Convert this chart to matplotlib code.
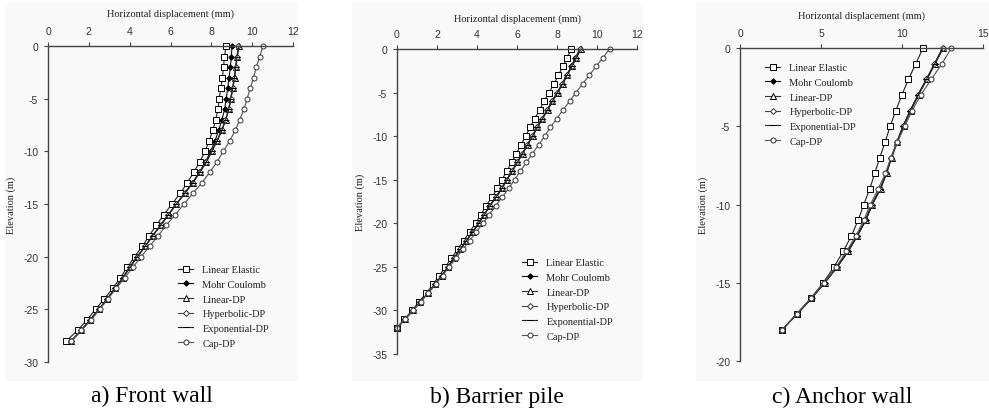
import matplotlib
matplotlib.use("Agg")
import matplotlib.pyplot as plt
from matplotlib.patches import Rectangle

plt.rcParams['axes.unicode_minus'] = False

labels = ["Linear Elastic", "Mohr Coulomb", "Linear-DP", "Hyperbolic-DP", "Exponential-DP", "Cap-DP"]

# ---- a) Front wall ----
depth_a = [0, -1, -2, -3, -4, -5, -6, -7, -8, -9, -10, -11, -12, -13, -14, -15, -16, -17, -18, -19,
           -20, -21, -22, -23, -24, -25, -26, -27, -28]
le_a = [8.73, 8.64, 8.60, 8.54, 8.47, 8.38, 8.33, 8.21, 8.08, 7.89, 7.69, 7.44, 7.13, 6.82, 6.47, 6.07,
        5.68, 5.31, 4.96, 4.62, 4.24, 3.89, 3.54, 3.18, 2.76, 2.33, 1.91, 1.45, 0.90]
mc_a = [9.01, 8.98, 8.93, 8.87, 8.80, 8.73, 8.65, 8.52, 8.36, 8.18, 7.97, 7.71, 7.41, 7.07, 6.69, 6.29,
        5.91, 5.53, 5.14, 4.77, 4.38, 4.02, 3.67, 3.30, 2.91, 2.50, 2.07, 1.63, 1.14]
ldp_a = [9.36, 9.27, 9.21, 9.14, 9.06, 8.96, 8.87, 8.70, 8.52, 8.28, 8.02, 7.76, 7.43, 7.09, 6.69, 6.29,
         5.90, 5.52, 5.13, 4.76, 4.37, 4.01, 3.66, 3.29, 2.90, 2.49, 2.06, 1.62, 1.14]
hdp_a = [9.33, 9.25, 9.19, 9.12, 9.04, 8.94, 8.85, 8.69, 8.51, 8.27, 8.01, 7.75, 7.43, 7.08, 6.69, 6.29,
         5.90, 5.52, 5.13, 4.76, 4.37, 4.01, 3.66, 3.29, 2.90, 2.49, 2.06, 1.62, 1.14]
edp_a = [9.35, 9.26, 9.20, 9.13, 9.05, 8.95, 8.86, 8.70, 8.52, 8.28, 8.02, 7.76, 7.43, 7.09, 6.69, 6.29,
         5.90, 5.52, 5.13, 4.76, 4.37, 4.01, 3.66, 3.29, 2.90, 2.49, 2.06, 1.62, 1.14]
cap_a = [10.53, 10.37, 10.20, 10.07, 9.91, 9.75, 9.60, 9.39, 9.18, 8.90, 8.59, 8.28, 7.92, 7.53, 7.10, 6.66,
         6.24, 5.80, 5.40, 4.98, 4.56, 4.16, 3.76, 3.35, 2.94, 2.53, 2.12, 1.63, 1.14]

# ---- b) Barrier pile ----
depth_b = [0, -1, -2, -3, -4, -5, -6, -7, -8, -9, -10, -11, -12, -13, -14, -15, -16, -17, -18, -19,
           -20, -21, -22, -23, -24, -25, -26, -27, -28, -29, -30, -31, -32]
le_b = [8.72, 8.50, 8.30, 8.07, 7.85, 7.60, 7.35, 7.13, 6.88, 6.65, 6.43, 6.20, 5.97, 5.73, 5.50, 5.25,
        5.02, 4.75, 4.45, 4.20, 3.93, 3.63, 3.33, 3.03, 2.72, 2.42, 2.12, 1.80, 1.47, 1.10, 0.75, 0.37, 0.0]
mc_b = [9.14, 8.92, 8.71, 8.48, 8.25, 8.00, 7.74, 7.50, 7.24, 6.99, 6.76, 6.51, 6.26, 6.00, 5.75, 5.48,
        5.23, 4.94, 4.62, 4.36, 4.08, 3.77, 3.46, 3.16, 2.84, 2.54, 2.23, 1.90, 1.55, 1.17, 0.80, 0.40, 0.0]
ldp_b = [9.20, 8.97, 8.75, 8.52, 8.29, 8.04, 7.77, 7.53, 7.27, 7.02, 6.78, 6.53, 6.28, 6.02, 5.77, 5.50,
         5.25, 4.96, 4.64, 4.37, 4.09, 3.78, 3.47, 3.17, 2.85, 2.55, 2.24, 1.90, 1.55, 1.17, 0.80, 0.40, 0.0]
hdp_b = [9.17, 8.95, 8.73, 8.50, 8.27, 8.02, 7.76, 7.52, 7.26, 7.01, 6.77, 6.52, 6.27, 6.01, 5.76, 5.49,
         5.24, 4.95, 4.63, 4.37, 4.09, 3.78, 3.47, 3.17, 2.85, 2.55, 2.24, 1.90, 1.55, 1.17, 0.80, 0.40, 0.0]
edp_b = [9.19, 8.96, 8.74, 8.51, 8.28, 8.03, 7.77, 7.53, 7.27, 7.02, 6.78, 6.53, 6.28, 6.02, 5.77, 5.50,
         5.25, 4.96, 4.64, 4.37, 4.09, 3.78, 3.47, 3.17, 2.85, 2.55, 2.24, 1.90, 1.55, 1.17, 0.80, 0.40, 0.0]
cap_b = [10.63, 10.30, 9.95, 9.62, 9.28, 8.95, 8.63, 8.30, 7.98, 7.67, 7.38, 7.08, 6.77, 6.47, 6.17, 5.88,
         5.58, 5.27, 4.93, 4.62, 4.30, 3.97, 3.63, 3.29, 2.95, 2.62, 2.28, 1.93, 1.57, 1.19, 0.80, 0.40, 0.0]

# ---- c) Anchor wall ----
depth_c = [0, -1, -2, -3, -4, -5, -6, -7, -8, -9, -10, -11, -12, -13, -14, -15, -16, -17, -18]
le_c = [11.30, 10.85, 10.40, 9.99, 9.62, 9.27, 8.96, 8.63, 8.32, 8.01, 7.64, 7.29, 6.88, 6.37, 5.79, 5.14,
        4.36, 3.49, 2.61]
mc_c = [12.53, 12.02, 11.51, 10.99, 10.52, 10.07, 9.70, 9.35, 9.04, 8.67, 8.16, 7.77, 7.25, 6.68, 6.00, 5.24,
        4.42, 3.53, 2.61]
ldp_c = [12.55, 12.05, 11.55, 11.02, 10.55, 10.10, 9.72, 9.37, 9.05, 8.68, 8.17, 7.77, 7.24, 6.66, 5.98, 5.22,
         4.40, 3.51, 2.61]
hdp_c = [12.50, 12.00, 11.50, 10.98, 10.50, 10.05, 9.68, 9.33, 9.02, 8.64, 8.12, 7.72, 7.21, 6.63, 5.96, 5.21,
         4.40, 3.51, 2.61]
edp_c = [12.52, 12.02, 11.51, 10.99, 10.52, 10.07, 9.70, 9.35, 9.04, 8.67, 8.15, 7.76, 7.24, 6.67, 5.99, 5.23,
         4.41, 3.52, 2.61]
cap_c = [13.05, 12.47, 11.81, 11.16, 10.62, 10.17, 9.72, 9.31, 8.98, 8.53, 8.05, 7.64, 7.15, 6.57, 5.92, 5.18,
         4.38, 3.49, 2.61]

xticks_ab = [0, 2, 4, 6, 8, 10, 12]
xticks_c = [0, 5, 10, 15]
yticks_a = [0, -5, -10, -15, -20, -25, -30]
yticks_b = [0, -5, -10, -15, -20, -25, -30, -35]
yticks_c = [0, -5, -10, -15, -20]

captions = ["a) Front wall", "b) Barrier pile", "c) Anchor wall"]

W, H = 989, 410
fig = plt.figure(figsize=(W / 100, H / 100), dpi=100)
fig.patch.set_facecolor('white')

SERIF = ['Liberation Serif', 'DejaVu Serif']
SANS = ['Liberation Sans', 'DejaVu Sans']

# background boxes (pixel coords: left, top, right, bottom)
boxes = [(5, 3, 298, 382), (352, 3, 643, 382), (696, 3, 989, 382)]
for l, t, r, b in boxes:
    fig.patches.append(Rectangle((l / W, 1 - b / H), (r - l) / W, (b - t) / H,
                                 transform=fig.transFigure, facecolor='#f9f9f9',
                                 edgecolor='none', zorder=-10))

# axes pixel positions: left, top, right, bottom
axpos = [(48, 47, 293, 363), (397, 50, 637, 355), (740, 49, 983, 362)]
styles = [
    dict(marker='s', mfc='white', mec='black', ms=3.8, color='#222222'),
    dict(marker='D', mfc='black', mec='black', ms=2.8, color='#111111'),
    dict(marker='^', mfc='white', mec='black', ms=3.8, color='#333333'),
    dict(marker='D', mfc='white', mec='#333333', ms=3.0, color='#444444'),
    dict(marker='_', mfc='black', mec='black', ms=4, color='#222222'),
    dict(marker='o', mfc='white', mec='#333333', ms=3.6, color='#555555'),
]

datasets = [
    (depth_a, [le_a, mc_a, ldp_a, hdp_a, edp_a, cap_a], (0, 12), (-30, 0), xticks_ab, yticks_a),
    (depth_b, [le_b, mc_b, ldp_b, hdp_b, edp_b, cap_b], (0, 12), (-35, 0), xticks_ab, yticks_b),
    (depth_c, [le_c, mc_c, ldp_c, hdp_c, edp_c, cap_c], (0, 15), (-20, 0), xticks_c, yticks_c),
]
legend_anchor = [(178, 266), (522, 259), (765, 64)]
xlabel_y = [14, 19, 16]
caption_pos = [(152, 396), (497, 397), (842, 397)]

for i, ((l, t, r, b), (dep, series, xl, yl, xt, yt)) in enumerate(zip(axpos, datasets)):
    ax = fig.add_axes([l / W, 1 - b / H, (r - l) / W, (b - t) / H])
    ax.set_facecolor('none')
    ax.set_zorder(5)
    for s, lab, st in zip(series, labels, styles):
        ax.plot(s, dep, lw=0.8, label=lab, clip_on=False, mew=0.7, **st)
    ax.set_xlim(*xl)
    ax.set_ylim(*yl)
    ax.set_xticks(xt)
    ax.set_yticks(yt)
    ax.xaxis.tick_top()
    ax.spines['bottom'].set_visible(False)
    ax.spines['right'].set_visible(False)
    for sp in ('top', 'left'):
        ax.spines[sp].set_color('#444444')
        ax.spines[sp].set_linewidth(1.0)
    ax.tick_params(direction='out', length=3, width=0.8, color='#444444',
                   labelsize=7.5, labelcolor='#333333', pad=4)
    for lbl in ax.get_xticklabels() + ax.get_yticklabels():
        lbl.set_family(SANS)
    fig.text((l + r) / 2 / W, 1 - xlabel_y[i] / H, "Horizontal displacement (mm)",
             ha='center', va='center', family=SERIF, fontsize=7.5, color='#222222')
    fig.text((l - 37) / W, 1 - (t + b) / 2 / H, "Elevation (m)", rotation=90,
             ha='center', va='center', family=SERIF, fontsize=7.5, color='#222222')
    ax_ = legend_anchor[i]
    leg = ax.legend(loc='upper left', bbox_to_anchor=(ax_[0] / W, 1 - ax_[1] / H),
                    bbox_transform=fig.transFigure, frameon=False, borderpad=0,
                    borderaxespad=0, handlelength=1.45, handletextpad=0.9,
                    labelspacing=0.52, prop={'family': SERIF, 'size': 7.5})
    for txt in leg.get_texts():
        txt.set_color('#222222')
    cx, cy = caption_pos[i]
    fig.text(cx / W, 1 - cy / H, captions[i], ha='center', va='center',
             family=SERIF, fontsize=17, color='black')

fig.savefig('out.png', dpi=100, facecolor='white')
